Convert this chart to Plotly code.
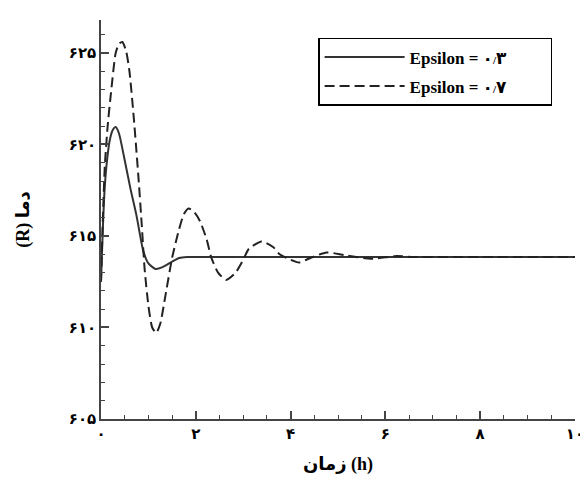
import plotly.graph_objects as go

# --- data ---
t_eps03 = [0.0, 0.04, 0.08, 0.13, 0.19, 0.25, 0.31, 0.38, 0.48, 0.62, 0.75, 0.89,
           1.0, 1.15, 1.3, 1.5, 1.65, 1.82, 2.5, 4.0, 6.0, 8.0, 10.0]
v_eps03 = [612.5, 615.5, 617.7, 619.2, 620.3, 620.8, 620.95, 620.6, 619.4, 617.6, 616.1, 614.2,
           613.5, 613.2, 613.3, 613.6, 613.8, 613.85, 613.85, 613.85, 613.85, 613.85, 613.85]

t_eps07 = [0.0, 0.04, 0.08, 0.14, 0.21, 0.31, 0.38, 0.45, 0.53, 0.6, 0.69, 0.79, 0.86, 0.92,
           1.0, 1.08, 1.165, 1.25, 1.35, 1.5, 1.64, 1.75, 1.85, 1.97, 2.09, 2.23, 2.33,
           2.47, 2.64, 2.84, 3.0, 3.12, 3.39, 3.63, 3.77, 4.0, 4.18, 4.42, 4.76, 5.14,
           5.69, 6.23, 6.6, 8.0, 10.0]
v_eps07 = [612.5, 616.0, 618.8, 621.0, 622.8, 625.0, 625.5, 625.6, 625.1, 624.0, 621.5, 618.2, 615.6, 613.2,
           611.2, 610.0, 609.7, 610.2, 611.6, 613.8, 615.3, 616.2, 616.5, 616.3, 615.8, 614.8, 613.8,
           613.0, 612.6, 613.0, 613.7, 614.3, 614.7, 614.4, 614.0, 613.7, 613.55, 613.8, 614.1, 613.95,
           613.75, 613.9, 613.85, 613.85, 613.85]

PAD = "\u00a0" * 9
series_names = [
    "Epsilon = ۰<span style='font-size:11px'>/</span>۳" + PAD,
    "Epsilon = ۰<span style='font-size:11px'>/</span>۷" + PAD,
]

x_tickvals = [0, 2, 4, 6, 8, 10]
x_ticktext = ["۰", "۲", "۴", "۶", "۸", "۱۰"]
y_tickvals = [605, 610, 615, 620, 625]
y_ticktext = ["۶۰۵", "۶۱۰", "۶۱۵", "۶۲۰", "۶۲۵"]

x_title = "زمان (h)"
y_title = "(R) دما"

FONT = "Liberation Serif, DejaVu Sans, serif"

fig = go.Figure()
fig.add_trace(go.Scatter(
    x=t_eps03, y=v_eps03, mode="lines", name=series_names[0], legendgroup="a",
    line=dict(color="#333333", width=2, shape="spline", smoothing=0.6),
))
fig.add_trace(go.Scatter(
    x=t_eps07, y=v_eps07, mode="lines", name=series_names[1], legendgroup="b",
    line=dict(color="#222222", width=2, dash="10px,5px", shape="spline", smoothing=0.6),
))

axis_common = dict(
    showline=True, linecolor="#444444", linewidth=1.5,
    ticks="inside", tickcolor="#444444", tickwidth=1.5, ticklen=8,
    showgrid=False, zeroline=False, mirror=False,
    tickfont=dict(family="DejaVu Sans", size=15, color="black", weight="bold"),
    title_font=dict(family=FONT, size=18, color="black", weight="bold"),
    ticklabeloverflow="allow",
)

fig.update_xaxes(
    range=[0, 10], tickvals=x_tickvals, ticktext=x_ticktext,
    minor=dict(dtick=0.5, tick0=0, ticks="inside", ticklen=4, tickcolor="#444444", tickwidth=1),
    title_text=x_title, title_standoff=16,
    **axis_common,
)
fig.update_yaxes(
    range=[605, 626.8], tickvals=y_tickvals, ticktext=y_ticktext,
    minor=dict(dtick=1, tick0=605, ticks="inside", ticklen=4, tickcolor="#444444", tickwidth=1),
    title_text=y_title, title_standoff=34,
    **axis_common,
)

fig.update_layout(
    width=588, height=479,
    margin=dict(l=93, r=14, t=12, b=68),
    paper_bgcolor="white", plot_bgcolor="white",
    showlegend=True,
    legend=dict(
        x=0.458, y=0.955, xanchor="left", yanchor="top",
        bordercolor="black", borderwidth=1.5, bgcolor="white",
        font=dict(family=FONT, size=17, color="black", weight="bold"),
        itemwidth=80, traceorder="grouped", tracegroupgap=4,
    ),
)

fig.write_html("out.html")
